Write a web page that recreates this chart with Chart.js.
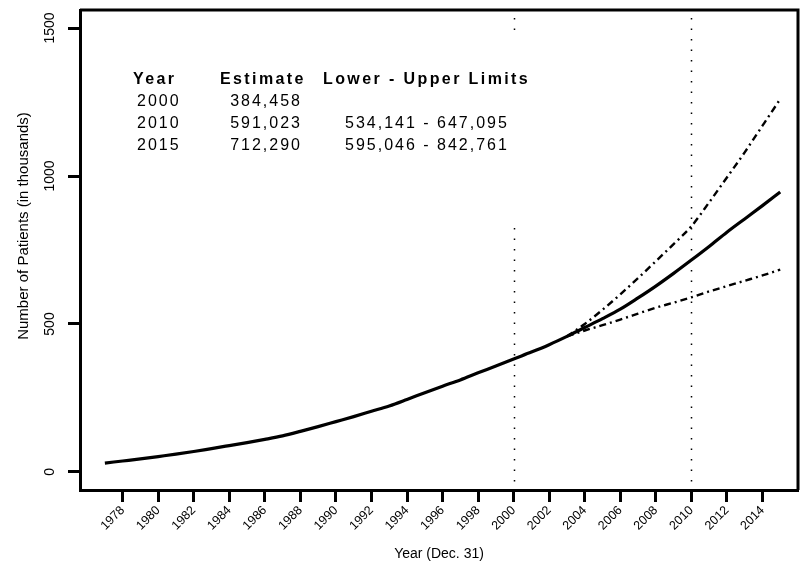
<!DOCTYPE html>
<html>
<head>
<meta charset="utf-8">
<script src="https://cdn.jsdelivr.net/npm/chart.js@4.4.1/dist/chart.umd.min.js"></script>
<style>
  html, body { margin: 0; padding: 0; background: #fff; }
  canvas { display: block; }
</style>
</head>
<body>
<canvas id="chart" width="800" height="567"></canvas>
<script>
// --- data (thousands of patients) ---
const years = [1977, 1978, 1979, 1980, 1981, 1982, 1983, 1984, 1985, 1986,
               1987, 1988, 1989, 1990, 1991, 1992, 1993, 1994, 1995, 1996,
               1997, 1998, 1999, 2000, 2001, 2002, 2003, 2004, 2005, 2006,
               2007, 2008, 2009, 2010, 2011, 2012, 2013, 2014, 2015];
const estimate = [30, 37, 44, 52, 60, 69, 79, 89, 99, 110,
                  122, 137, 153, 170, 187, 205, 223, 245, 268, 290,
                  311, 335, 358, 382, 405, 430, 458, 488, 518, 550,
                  588, 628, 671, 716, 762, 810, 855, 900, 946];

const boundYears = [2003, 2004, 2005, 2006, 2007, 2008, 2009, 2010, 2011, 2012, 2013, 2014, 2015];
const upper = [458, 500, 548, 600, 655, 712, 770, 830, 911, 995, 1080, 1170, 1260];
const lower = [458, 478, 496, 515, 535, 555, 572, 590, 610, 628, 646, 664, 684];

const xTicks = [1978, 1980, 1982, 1984, 1986, 1988, 1990, 1992, 1994, 1996,
                1998, 2000, 2002, 2004, 2006, 2008, 2010, 2012, 2014];
const yTicks = [0, 500, 1000, 1500];
const markYears = [2000, 2010];

const tableHead = ['Year', 'Estimate', 'Lower - Upper Limits'];
const tableRows = [
    ['2000', '384,458', ''],
    ['2010', '591,023', '534,141 - 647,095'],
    ['2015', '712,290', '595,046 - 842,761']
];

const FONT = '"Liberation Sans", Arial, sans-serif';
const toPoints = (xs, ys) => xs.map((x, i) => ({ x: x, y: ys[i] }));

// draws the frame, the dotted year marks, the table and the rotated y labels
const decorations = {
    id: 'decorations',
    beforeDatasetsDraw(chart) {
        const ctx = chart.ctx;
        const area = chart.chartArea;
        const xs = chart.scales.x;

        ctx.save();
        ctx.strokeStyle = '#000';
        ctx.lineWidth = 1.5;
        ctx.setLineDash([1.5, 9]);
        markYears.forEach(yr => {
            const px = Math.round(xs.getPixelForValue(yr)) + 0.5;
            ctx.beginPath();
            ctx.moveTo(px, area.top + 8);
            ctx.lineTo(px, area.bottom);
            ctx.stroke();
        });
        ctx.setLineDash([]);

        // white box behind the table (it hides part of the 2000 mark)
        ctx.fillStyle = '#fff';
        ctx.fillRect(110, 38, 450, 182);

        ctx.fillStyle = '#000';
        ctx.textBaseline = 'middle';
        ctx.letterSpacing = '2.4px';
        ctx.font = 'bold 16px ' + FONT;
        ctx.textAlign = 'left';
        ctx.fillText(tableHead[0], 133, 80);
        ctx.fillText(tableHead[1], 220, 80);
        ctx.fillText(tableHead[2], 323, 80);

        ctx.letterSpacing = '2px';
        ctx.font = '16px ' + FONT;
        tableRows.forEach((row, i) => {
            const y = 102 + i * 22;
            ctx.textAlign = 'left';
            ctx.fillText(row[0], 137, y);
            ctx.textAlign = 'right';
            ctx.fillText(row[1], 302, y);
            ctx.textAlign = 'left';
            if (row[2]) ctx.fillText(row[2], 345, y);
        });
        ctx.restore();
    },
    afterDraw(chart) {
        const ctx = chart.ctx;
        const area = chart.chartArea;
        const ys = chart.scales.y;

        ctx.save();
        ctx.strokeStyle = '#000';
        ctx.lineWidth = 3;
        ctx.beginPath();
        ctx.moveTo(area.left, area.top);
        ctx.lineTo(area.right, area.top);
        ctx.lineTo(area.right, area.bottom);
        ctx.stroke();

        ctx.fillStyle = '#000';
        ctx.textAlign = 'center';
        ctx.textBaseline = 'middle';
        ctx.font = '14px ' + FONT;
        yTicks.forEach(v => {
            const py = ys.getPixelForValue(v);
            ctx.save();
            ctx.translate(50, py);
            ctx.rotate(-Math.PI / 2);
            ctx.fillText(String(v), 0, 0);
            ctx.restore();
        });

        ctx.font = '15px ' + FONT;
        ctx.save();
        ctx.translate(24, 226);
        ctx.rotate(-Math.PI / 2);
        ctx.fillText('Number of Patients (in thousands)', 0, 0);
        ctx.restore();
        ctx.restore();
    }
};

new Chart(document.getElementById('chart'), {
    type: 'line',
    data: {
        datasets: [
            {
                label: 'Estimate',
                data: toPoints(years, estimate),
                borderColor: '#000',
                borderWidth: 3.2,
                pointRadius: 0,
                cubicInterpolationMode: 'monotone'
            },
            {
                label: 'Upper limit',
                data: toPoints(boundYears, upper),
                borderColor: '#000',
                borderWidth: 2.4,
                borderDash: [7, 4, 2, 4],
                pointRadius: 0,
                cubicInterpolationMode: 'monotone'
            },
            {
                label: 'Lower limit',
                data: toPoints(boundYears, lower),
                borderColor: '#000',
                borderWidth: 2.4,
                borderDash: [7, 4, 2, 4],
                pointRadius: 0,
                cubicInterpolationMode: 'monotone'
            }
        ]
    },
    options: {
        responsive: false,
        animation: false,
        devicePixelRatio: 1,
        layout: { padding: { top: 10, right: 2, left: 0, bottom: 0 } },
        plugins: {
            legend: { display: false },
            tooltip: { enabled: false }
        },
        scales: {
            x: {
                type: 'linear',
                min: 1975.6,
                max: 2016.0,
                afterBuildTicks: scale => { scale.ticks = xTicks.map(v => ({ value: v })); },
                afterFit: scale => { scale.height = 77; },
                ticks: {
                    autoSkip: false,
                    minRotation: 45,
                    maxRotation: 45,
                    padding: 1,
                    color: '#000',
                    font: { family: FONT, size: 12.5 },
                    callback: v => String(v)
                },
                grid: {
                    drawOnChartArea: false,
                    tickLength: 12,
                    tickWidth: 3,
                    tickColor: '#000'
                },
                border: { display: true, color: '#000', width: 3 },
                title: {
                    display: true,
                    text: 'Year (Dec. 31)',
                    color: '#000',
                    font: { family: FONT, size: 14 },
                    padding: { top: 6, bottom: 4 }
                }
            },
            y: {
                min: -61,
                max: 1561,
                afterBuildTicks: scale => { scale.ticks = yTicks.map(v => ({ value: v })); },
                afterFit: scale => { scale.width = 80; },
                ticks: { display: false },
                grid: {
                    drawOnChartArea: false,
                    tickLength: 12,
                    tickWidth: 3,
                    tickColor: '#000'
                },
                border: { display: true, color: '#000', width: 3 }
            }
        }
    },
    plugins: [decorations]
});
</script>
</body>
</html>
